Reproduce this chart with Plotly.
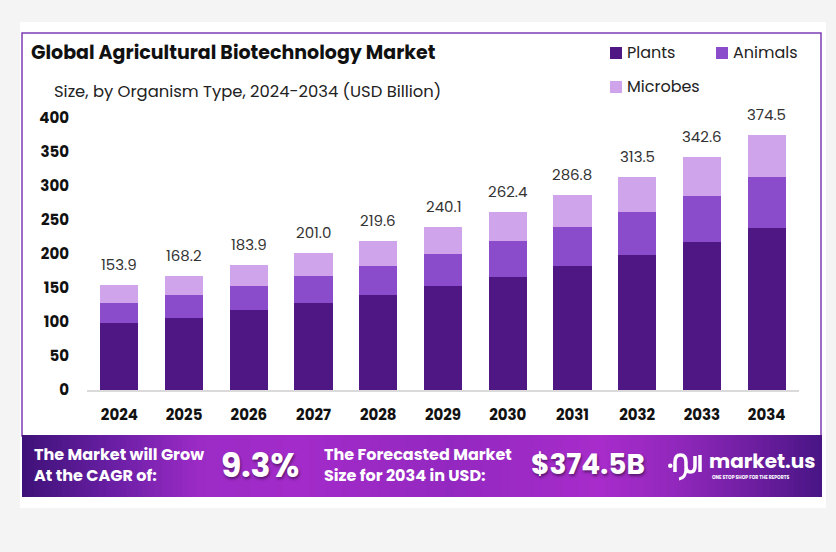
import plotly.graph_objects as go

# ---------------- data ----------------
years = ["2024", "2025", "2026", "2027", "2028", "2029", "2030", "2031", "2032", "2033", "2034"]
plants = [98.0, 106.4, 117.2, 127.5, 139.2, 152.9, 166.2, 182.8, 199.0, 217.6, 238.2]
animals = [30.4, 33.3, 35.3, 39.5, 43.2, 47.1, 52.9, 56.9, 63.2, 68.2, 75.0]
microbes = [25.5, 28.5, 31.4, 34.0, 37.2, 40.1, 43.3, 47.1, 51.3, 56.8, 61.3]
totals = [153.9, 168.2, 183.9, 201.0, 219.6, 240.1, 262.4, 286.8, 313.5, 342.6, 374.5]
total_labels = ["153.9", "168.2", "183.9", "201.0", "219.6", "240.1", "262.4", "286.8", "313.5", "342.6", "374.5"]
y_ticks = [0, 50, 100, 150, 200, 250, 300, 350, 400]

series_names = ["Plants", "Animals", "Microbes"]
series_values = [plants, animals, microbes]
series_colors = ["#4e1784", "#8a4ccb", "#cfa4ea"]

# ---------------- layout geometry (page pixels; the page body adds an 8px offset) ----------------
OFF = 8
W, H = 836 - OFF, 552 - OFF
PL, PR, PT, PB = 87, 799, 118, 390
FONT = "Poppins, Inter, 'Open Sans', sans-serif"


def fx(px):
    return (px - PL) / (PR - PL)


def fy(py):
    return (PB - py) / (PB - PT)


fig = go.Figure()
for name, vals, col in zip(series_names, series_values, series_colors):
    fig.add_trace(go.Bar(x=years, y=vals, name=name, marker=dict(color=col, line=dict(width=0)),
                         showlegend=False))

shapes = []
annotations = []

# white card + page line
shapes.append(dict(type="rect", xref="paper", yref="paper", x0=fx(20), x1=fx(826), y0=fy(22), y1=fy(508),
                   fillcolor="white", line=dict(width=0), layer="below"))
shapes.append(dict(type="line", xref="paper", yref="paper", x0=fx(829), x1=fx(829), y0=fy(8), y1=fy(552),
                   line=dict(color="#e2e2e2", width=1.5), layer="below"))
# purple frame
shapes.append(dict(type="rect", xref="paper", yref="paper", x0=fx(22), x1=fx(821), y0=fy(33), y1=fy(436),
                   fillcolor="rgba(0,0,0,0)", line=dict(color="#7d3db5", width=1.5), layer="below"))

# banner gradient built from thin slices
stops = [(22, (0x3e, 0x12, 0x78)), (110, (0x68, 0x1e, 0xa3)), (200, (0x9c, 0x2b, 0xc6)),
         (300, (0xa3, 0x2b, 0xc9)), (450, (0x93, 0x28, 0xc0)), (600, (0xa8, 0x2c, 0xcb)),
         (680, (0x90, 0x27, 0xbb)), (760, (0x6a, 0x1d, 0x9e)), (822, (0x48, 0x15, 0x84))]


def grad(px):
    for (a, ca), (b, cb) in zip(stops[:-1], stops[1:]):
        if a <= px <= b:
            t = (px - a) / (b - a)
            return "rgb(%d,%d,%d)" % tuple(round(ca[i] + (cb[i] - ca[i]) * t) for i in range(3))
    return "rgb(%d,%d,%d)" % stops[-1][1]


step = 4
x = 22
while x < 822:
    x2 = min(x + step, 822)
    shapes.append(dict(type="rect", xref="paper", yref="paper", x0=fx(x), x1=fx(min(x2 + 0.6, 822)),
                       y0=fy(435), y1=fy(497), fillcolor=grad((x + x2) / 2), line=dict(width=0),
                       layer="above"))
    x = x2


# logo icon (paths in page pixel coords converted to paper coords)
def P(px, py):
    return "%.5f,%.5f" % (fx(px), fy(py))


icon_path = ("M" + P(675, 472) + " L" + P(675, 462) + " Q" + P(675, 455) + " " + P(680.5, 455) +
             " Q" + P(686, 455) + " " + P(686, 462) + " L" + P(686, 466) + " Q" + P(686, 472) + " " +
             P(690.5, 472) + " Q" + P(695, 472) + " " + P(695, 466) + " L" + P(695, 456))
shapes.append(dict(type="path", xref="paper", yref="paper", path=icon_path,
                   line=dict(color="white", width=3.5), layer="above"))
shapes.append(dict(type="line", xref="paper", yref="paper", x0=fx(700), x1=fx(700), y0=fy(455), y1=fy(472),
                   line=dict(color="white", width=3.5), layer="above"))
shapes.append(dict(type="path", xref="paper", yref="paper",
                   path="M" + P(686, 468) + " Q" + P(686, 478) + " " + P(679, 479),
                   line=dict(color="white", width=3), layer="above"))
shapes.append(dict(type="circle", xref="paper", yref="paper", x0=fx(668), x1=fx(672.5), y0=fy(463.5),
                   y1=fy(468), fillcolor="white", line=dict(width=0), layer="above"))

# legend (manual)
legend_items = [(610, 53, 0), (716, 53, 1), (610, 87, 2)]
for lx, ly, i in legend_items:
    shapes.append(dict(type="rect", xref="paper", yref="paper", x0=fx(lx), x1=fx(lx + 12),
                       y0=fy(ly - 6), y1=fy(ly + 6), fillcolor=series_colors[i], line=dict(width=0)))
    annotations.append(dict(xref="paper", yref="paper", x=fx(lx + 15), y=fy(ly), xanchor="left",
                            yanchor="middle", text=series_names[i], showarrow=False,
                            font=dict(family=FONT, size=16, color="#222222")))

# titles
annotations.append(dict(xref="paper", yref="paper", x=fx(29), y=fy(52), xanchor="left", yanchor="middle",
                        text="<b>Global Agricultural Biotechnology Market</b>", showarrow=False,
                        font=dict(family=FONT, size=19, color="#111111")))
annotations.append(dict(xref="paper", yref="paper", x=fx(52), y=fy(92), xanchor="left", yanchor="middle",
                        text="Size, by Organism Type, 2024-2034 (USD Billion)", showarrow=False,
                        font=dict(family=FONT, size=16.4, color="#222222")))

# total labels above bars (category index positions, data y)
for i, (tot, lab) in enumerate(zip(totals, total_labels)):
    annotations.append(dict(x=i, y=tot, xref="x", yref="y", text=lab, showarrow=False, yanchor="bottom",
                            yshift=8, font=dict(family=FONT, size=15, color="#333333")))

# banner texts
shadow = "1px 2px 3px rgba(0,0,0,0.45)"
annotations.append(dict(xref="paper", yref="paper", x=fx(32), y=fy(465), xanchor="left", yanchor="middle",
                        text="<b>The Market will Grow<br>At the CAGR of:</b>", showarrow=False, align="left",
                        font=dict(family=FONT, size=16, color="white")))
annotations.append(dict(xref="paper", yref="paper", x=fx(219), y=fy(465), xanchor="left", yanchor="middle",
                        text="<b>9.3%</b>", showarrow=False,
                        font=dict(family=FONT, size=33, color="white", shadow=shadow)))
annotations.append(dict(xref="paper", yref="paper", x=fx(322), y=fy(465), xanchor="left", yanchor="middle",
                        text="<b>The Forecasted Market<br>Size for 2034 in USD:</b>", showarrow=False,
                        align="left", font=dict(family=FONT, size=16, color="white")))
annotations.append(dict(xref="paper", yref="paper", x=fx(529), y=fy(464), xanchor="left", yanchor="middle",
                        text="<b>$374.5B</b>", showarrow=False,
                        font=dict(family=FONT, size=28, color="white", shadow=shadow)))
annotations.append(dict(xref="paper", yref="paper", x=fx(707), y=fy(461), xanchor="left", yanchor="middle",
                        text="<b>market.us</b>", showarrow=False,
                        font=dict(family=FONT, size=20, color="white")))
annotations.append(dict(xref="paper", yref="paper", x=fx(710), y=fy(477), xanchor="left", yanchor="middle",
                        text="<b>ONE STOP SHOP FOR THE REPORTS</b>", showarrow=False,
                        font=dict(family=FONT, size=4.6, color="white")))

fig.update_layout(
    width=W, height=H,
    margin=dict(l=PL - OFF, r=W - (PR - OFF), t=PT - OFF, b=H - (PB - OFF), pad=0),
    paper_bgcolor="#f4f4f4", plot_bgcolor="white",
    barmode="stack", bargap=0.41,
    showlegend=False,
    shapes=shapes, annotations=annotations,
    font=dict(family=FONT, color="#111111"),
)
fig.update_xaxes(type="category", range=[-0.5, 10.5], showgrid=False, showline=True, linecolor="#dadada",
                 linewidth=2, ticks="", ticklabelstandoff=10, zeroline=False,
                 tickfont=dict(family=FONT, size=15, color="#111111", weight="bold"))
fig.update_yaxes(range=[0, 400], tickvals=y_ticks, showgrid=False, zeroline=False, showline=False,
                 ticks="", ticklabelstandoff=17,
                 tickfont=dict(family=FONT, size=15, color="#111111", weight="bold"))

fig.write_html("out.html", post_script="document.body.style.background='#f4f4f4';")
